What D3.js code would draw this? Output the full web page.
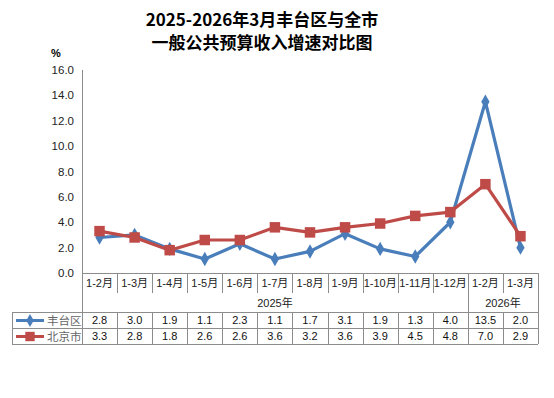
<!DOCTYPE html>
<html>
<head>
<meta charset="utf-8">
<script src="https://cdn.jsdelivr.net/npm/d3@7"></script>
<style>
body { margin: 0; background: #fff; }
text { font-family: "Liberation Sans", "Noto Sans CJK SC", sans-serif; }
</style>
</head>
<body>
<div id="chart"></div>
<script>
var categories = ["1-2月","1-3月","1-4月","1-5月","1-6月","1-7月","1-8月","1-9月","1-10月","1-11月","1-12月","1-2月","1-3月"];
var fengtai = [2.8,3.0,1.9,1.1,2.3,1.1,1.7,3.1,1.9,1.3,4.0,13.5,2.0];
var beijing = [3.3,2.8,1.8,2.6,2.6,3.6,3.2,3.6,3.9,4.5,4.8,7.0,2.9];
var seriesNames = ["丰台区","北京市"];
var years = ["2025年","2026年"];
var yearCounts = [11, 2];
var yTicks = [0,2,4,6,8,10,12,14,16];

var width = 554, height = 398,
	plot = { left: 82, right: 538, top: 70, bottom: 273 },
	tableLeft = 12,
	rows = { cat: 293, year: 312, r1: 328, r2: 344 },
	colors = { blue: '#4a7ebb', red: '#be4b48', grid: '#8c8c8c' };

var svg = d3.select('#chart').append('svg')
	.attr('width', width)
	.attr('height', height);

var x = d3.scaleBand().domain(d3.range(categories.length)).range([plot.left, plot.right]);
var y = d3.scaleLinear().domain([0,16]).range([plot.bottom, plot.top]);

// title
svg.append('text')
	.attr('x', 262).attr('y', 26)
	.attr('text-anchor', 'middle')
	.style('font-family', '"Noto Sans CJK SC", sans-serif')
	.style('font-size', '17px').style('font-weight', 'bold')
	.text('2025-2026年3月丰台区与全市');
svg.append('text')
	.attr('x', 262).attr('y', 49)
	.attr('text-anchor', 'middle')
	.style('font-family', '"Noto Sans CJK SC", sans-serif')
	.style('font-size', '17px').style('font-weight', 'bold')
	.text('一般公共预算收入增速对比图');

svg.append('text')
	.attr('x', 51).attr('y', 57)
	.style('font-size', '11px').style('font-weight', 'bold')
	.text('%');

// y axis labels
svg.selectAll('.ytick')
	.data(yTicks)
	.enter()
	.append('text')
	.attr('class', 'ytick')
	.attr('x', 74)
	.attr('y', function(d){ return y(d) + 4; })
	.attr('text-anchor', 'end')
	.style('font-size', '11.5px')
	.attr('fill', '#222')
	.text(function(d){ return d.toFixed(1); });

var g = svg.append('g').attr('stroke', colors.grid).attr('stroke-width', 1).attr('shape-rendering', 'crispEdges');

// y axis line
g.append('line').attr('x1', plot.left + 0.5).attr('x2', plot.left + 0.5).attr('y1', plot.top).attr('y2', rows.r2);
// x axis / table top
g.append('line').attr('x1', plot.left).attr('x2', plot.right).attr('y1', plot.bottom + 0.5).attr('y2', plot.bottom + 0.5);
// table horizontals
[rows.year, rows.r1, rows.r2].forEach(function(r){
	g.append('line').attr('x1', tableLeft).attr('x2', plot.right).attr('y1', r + 0.5).attr('y2', r + 0.5);
});
g.append('line').attr('x1', tableLeft + 0.5).attr('x2', tableLeft + 0.5).attr('y1', rows.year).attr('y2', rows.r2);
g.append('line').attr('x1', plot.right + 0.5).attr('x2', plot.right + 0.5).attr('y1', plot.bottom).attr('y2', rows.r2);

// category dividers
d3.range(1, categories.length).forEach(function(i){
	var xx = Math.round(x(i)) + 0.5;
	var isYearBreak = (i === yearCounts[0]);
	g.append('line').attr('x1', xx).attr('x2', xx)
		.attr('y1', plot.bottom).attr('y2', isYearBreak ? rows.r2 : rows.cat);
	if (!isYearBreak) {
		g.append('line').attr('x1', xx).attr('x2', xx).attr('y1', rows.year).attr('y2', rows.r2);
	}
});

// category labels
svg.selectAll('.cat')
	.data(categories)
	.enter()
	.append('text')
	.attr('class', 'cat')
	.attr('x', function(d, i){ return x(i) + x.bandwidth() / 2; })
	.attr('y', 287)
	.attr('text-anchor', 'middle')
	.style('font-size', '11px')
	.attr('fill', '#222')
	.text(function(d){ return d; });

// year labels
var start = 0;
years.forEach(function(yr, k){
	var a = x(start), b = x(start + yearCounts[k] - 1) + x.bandwidth();
	svg.append('text')
		.attr('x', (a + b) / 2).attr('y', 307)
		.attr('text-anchor', 'middle')
		.style('font-size', '11px')
		.attr('fill', '#222')
		.text(yr);
	start += yearCounts[k];
});

var series = [
	{ name: seriesNames[0], values: fengtai, color: colors.blue, shape: d3.symbolDiamond, size: 60, row: rows.year },
	{ name: seriesNames[1], values: beijing, color: colors.red, shape: d3.symbolSquare, size: 110, row: rows.r1 }
];

var line = d3.line()
	.x(function(d, i){ return x(i) + x.bandwidth() / 2; })
	.y(function(d){ return y(d); });

series.forEach(function(s){
	svg.append('path')
		.attr('d', line(s.values))
		.attr('fill', 'none')
		.attr('stroke', s.color)
		.attr('stroke-width', 3.2)
		.attr('stroke-linejoin', 'round');

	svg.selectAll(null)
		.data(s.values)
		.enter()
		.append('path')
		.attr('d', d3.symbol().type(s.shape).size(s.size))
		.attr('transform', function(d, i){
			return 'translate(' + (x(i) + x.bandwidth() / 2) + ',' + y(d) + ')';
		})
		.attr('fill', s.color);

	// table row values
	svg.selectAll(null)
		.data(s.values)
		.enter()
		.append('text')
		.attr('x', function(d, i){ return x(i) + x.bandwidth() / 2; })
		.attr('y', s.row + 12)
		.attr('text-anchor', 'middle')
		.style('font-size', '11px')
		.attr('fill', '#111')
		.text(function(d){ return d.toFixed(1); });

	// legend key in table
	var ly = s.row + 8.5;
	svg.append('line')
		.attr('x1', 16).attr('x2', 44).attr('y1', ly).attr('y2', ly)
		.attr('stroke', s.color).attr('stroke-width', 3);
	svg.append('path')
		.attr('d', d3.symbol().type(s.shape).size(s.size * 0.8))
		.attr('transform', 'translate(30,' + ly + ')')
		.attr('fill', s.color);
	svg.append('text')
		.attr('x', 47).attr('y', s.row + 12.5)
		.style('font-size', '11.5px')
		.attr('fill', '#666')
		.text(s.name);
});
</script>
</body>
</html>
